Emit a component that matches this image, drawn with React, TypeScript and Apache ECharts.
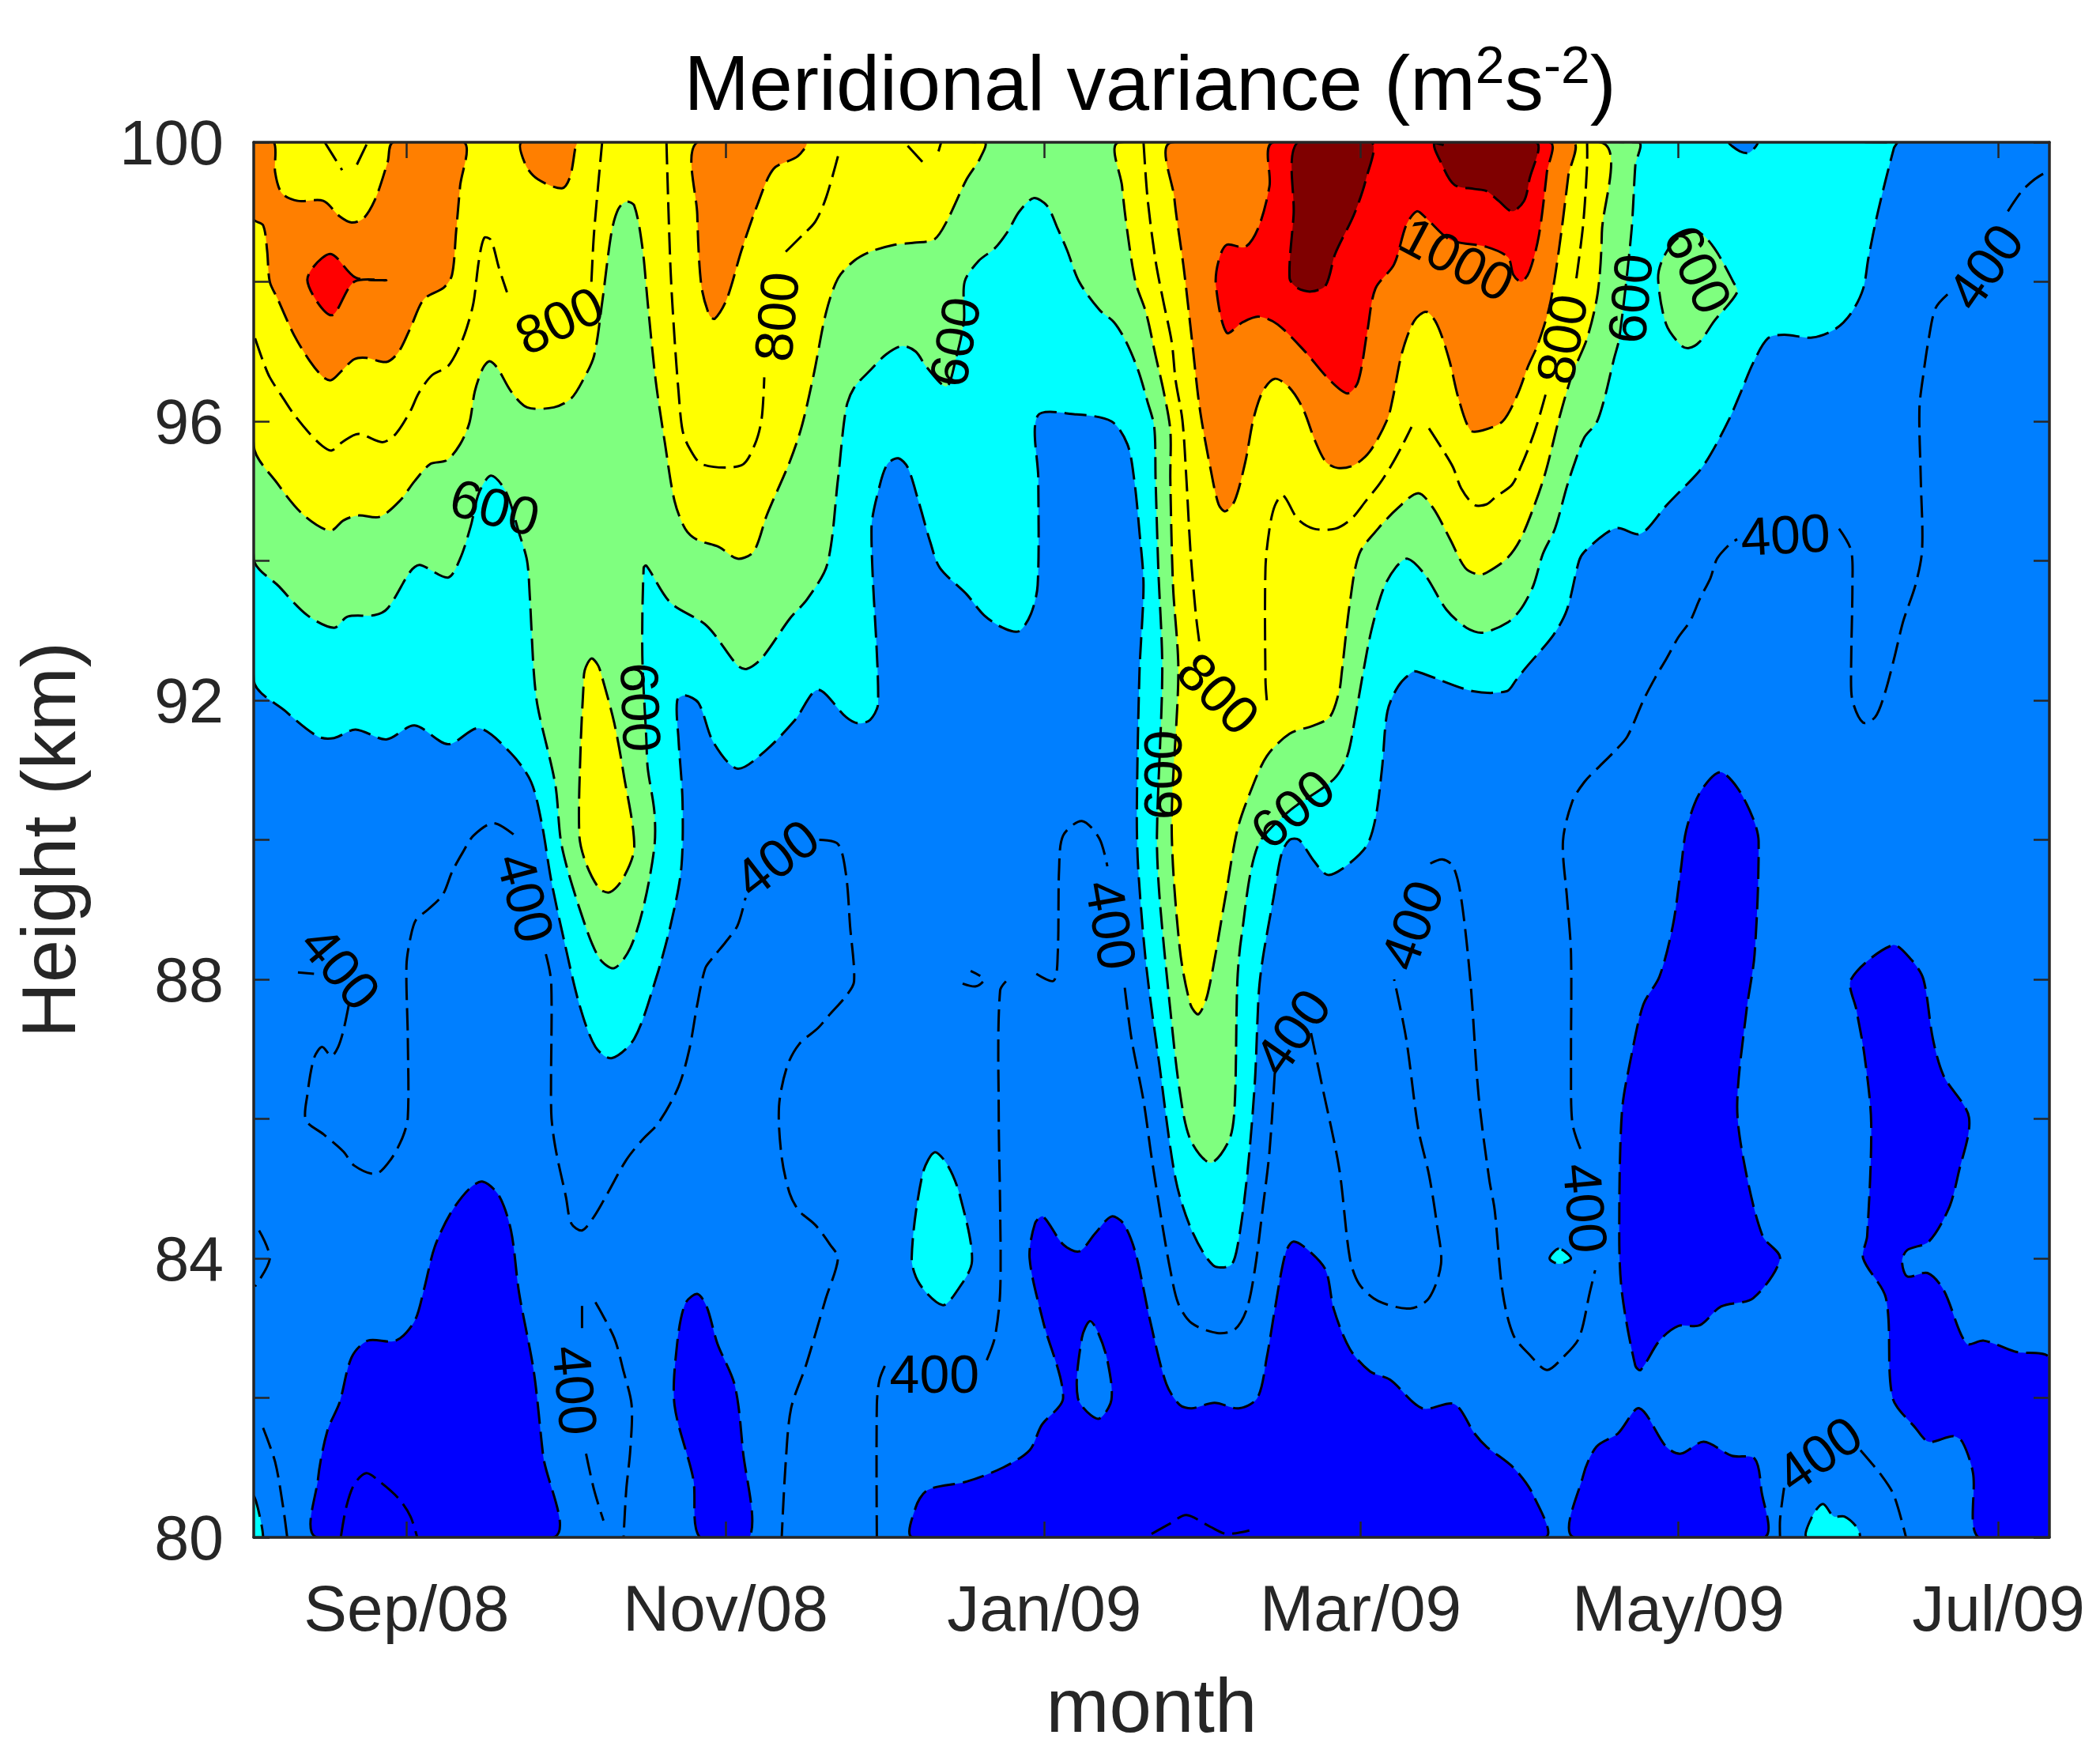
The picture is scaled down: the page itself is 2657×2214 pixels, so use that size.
import React, { useEffect, useRef } from "react";
import * as echarts from "echarts";

type Pt = number[];

// x is the 6-hourly sample number of the record, y is height in km
const xTickValues = [114, 352, 590, 826, 1063, 1302];
const xTickLabels = ["Sep/08", "Nov/08", "Jan/09", "Mar/09", "May/09", "Jul/09"];
const yLabelledTicks = [80, 84, 88, 92, 96, 100];

const cyanBand: Pt[] = [[0,92.29],[24,91.84],[48,91.48],[60,91.46],[76,91.58],[99,91.44],[120,91.64],[145,91.37],[168,91.6],[192,91.24],[207,90.83],[215,90.23],[222,89.42],[231,88.61],[243,87.64],[255,87.03],[267,86.87],[284,87.15],[300,88],[311,88.77],[319,89.58],[320,90.55],[317,91.44],[316,92],[322,92.07],[332,91.96],[343,91.4],[361,91.02],[382,91.28],[404,91.72],[421,92.15],[442,91.76],[451,91.67],[460,91.72],[466,91.96],[461,94.46],[467,95.07],[473,95.39],[481,95.47],[488,95.34],[496,94.86],[505,94.26],[512,93.9],[532,93.52],[545,93.22],[559,93.04],[571,92.99],[580,93.24],[585,93.65],[585.5,95.17],[585,96.08],[613,96.1],[640,96],[652,95.67],[657,95.17],[661,94.41],[664,93.65],[661,92.41],[659,90.39],[660,89.6],[666,88.2],[676,86.75],[688,85.13],[700,84.4],[716,83.9],[729,83.9],[734,84.16],[741,85.13],[747,86.5],[750,87.8],[753,88.3],[761,89.17],[767,89.8],[773,90],[780,90],[791,89.7],[801,89.5],[812,89.58],[830,89.9],[837,90.3],[842,91.03],[846,91.84],[854,92.2],[865,92.41],[870,92.4],[910,92.13],[935,92.13],[942,92.29],[949,92.46],[970,92.94],[980,93.3],[989,94],[993,94.13],[1008,94.38],[1018,94.47],[1033,94.38],[1040,94.46],[1054,94.79],[1078,95.27],[1087,95.52],[1101,96.03],[1110,96.43],[1119,96.84],[1130,97.19],[1142,97.24],[1163,97.2],[1180,97.32],[1192,97.55],[1201,97.9],[1205,98.35],[1212,99],[1224,99.92],[1226,100],[0,100]];
const cyanDropJan: Pt[] = [[508,85.52],[499,85.2],[491,84],[497,83.63],[514,83.33],[524,83.51],[536,83.96],[527,84.9],[518,85.33]];
const cyanSpeck: Pt[] = [[974,84.14],[967,84],[974,83.92],[983,84]];
const cyanFloorJun: Pt[] = [[1159,80],[1163,80.3],[1171,80.48],[1179,80.3],[1187,80.3],[1196,80.15],[1198,80]];
const cyanCorner: Pt[] = [[0,80.6],[7,80],[0,80]];

const greenBand: Pt[] = [[0,94.03],[19,93.63],[40,93.22],[60,93.04],[70,93.2],[90,93.22],[100,93.32],[117,93.85],[124,93.94],[145,93.76],[154,94.03],[162,94.5],[168,94.97],[177,95.22],[188,95],[198,94.4],[204,94],[206,93.5],[209,92.41],[212,91.9],[225,90.8],[230,89.9],[246,88.85],[258,88.3],[269,88.16],[281,88.45],[291,89.05],[299,89.9],[299,90.4],[294,91.03],[293,91.44],[290,92.64],[291,93.9],[293,93.93],[311,93.4],[338,93.07],[361,92.5],[368,92.45],[379,92.6],[400,93.17],[413,93.45],[428,93.95],[436,95.17],[442,96.18],[448,96.48],[460,96.73],[472,96.96],[484,97.08],[494,97],[502,96.78],[517,96.5],[524,96.9],[530,97.44],[530.5,98],[541,98.3],[553,98.48],[563,98.73],[571,99],[582,99.2],[592,99.09],[600,98.76],[607,98.45],[616,98],[631,97.6],[642,97.42],[651,97.14],[660,96.73],[667,96.28],[672,95.92],[673,95.17],[675,93.9],[678,92.41],[674,90.06],[676,89.17],[684,87.56],[691,86.4],[699,85.7],[714,85.37],[728,85.7],[732,86.18],[734,87.96],[737,88.6],[749,89.9],[772,90.4],[806,90.87],[816,91.2],[822,91.76],[828,92.41],[834,93],[843,93.6],[852,93.9],[861,94.03],[874,93.8],[890,93.3],[905,93.04],[917,92.97],[936,93.12],[946,93.32],[955,93.65],[962,94.1],[971,94.46],[980,95.07],[986,95.42],[993,95.77],[1002,95.98],[1008,96.33],[1015,96.89],[1019,97.19],[1028,98.7],[1031,99.67],[1033,100],[0,100]];
const greenPatchMay: Pt[] = [[1063,98.63],[1052,98.35],[1048,98.05],[1054,97.39],[1065,97.09],[1071,97.05],[1079,97.14],[1090,97.44],[1107,97.85],[1104,98],[1090,98.48],[1078,98.71]];

const yellowLeft: Pt[] = [[0,95.65],[18,95.1],[37,94.66],[57,94.43],[67,94.58],[78,94.65],[94,94.63],[109,94.86],[120,95.14],[132,95.39],[144,95.44],[154,95.67],[161,95.98],[165,96.43],[171,96.76],[176,96.86],[182,96.76],[192,96.43],[204,96.2],[224,96.2],[237,96.33],[246,96.6],[254,96.94],[260,97.7],[267,98.71],[272,99.04],[278,99.15],[284,99.09],[290,98.5],[294,97.7],[300,96.58],[307,95.67],[314,94.86],[322,94.46],[331,94.3],[347,94.2],[361,94.03],[373,94.13],[383,94.66],[400,95.42],[409,95.93],[418,96.68],[427,97.55],[436,98.05],[448,98.3],[460,98.43],[478,98.53],[493,98.56],[508,98.61],[517,98.86],[532,99.47],[542,99.77],[545,100],[0,100]];
const yellowRight: Pt[] = [[646,100],[648,99.37],[652,98.71],[658,98],[666,97.55],[673,96.94],[679,96.43],[684,95.87],[684,95.17],[686,93.65],[690,92.41],[685,90.2],[691,88.45],[699,87.64],[705,87.5],[712,87.8],[725,89.17],[734,90.14],[744,90.7],[756,91.2],[773,91.52],[791,91.64],[803,91.76],[810,92.13],[812,92.41],[818,93.4],[825,94.1],[839,94.46],[854,94.76],[869,94.97],[880,94.76],[893,94.3],[904,93.9],[914,93.8],[920,93.83],[935,94.03],[945,94.3],[955,94.76],[964,95.27],[974,96.03],[984,96.68],[995,97.19],[1003,97.85],[1006,98.7],[1005,100]];
const yellowPocket: Pt[] = [[252,92.6],[247,92.43],[246,92.17],[244,91.36],[243,90.06],[248,89.66],[258,89.3],[266,89.25],[276,89.46],[284,89.9],[276,90.95],[269,91.68],[260,92.33],[257,92.5]];

const orangeLeft: Pt[] = [[0,98.9],[7,98.81],[10,98.45],[12,98],[18,97.75],[30,97.24],[42,96.86],[52,96.63],[58,96.59],[66,96.73],[75,96.89],[84,96.91],[99,96.85],[108,96.99],[117,97.34],[127,97.75],[142,97.92],[148,98.1],[151,98.71],[154,99.37],[157,100],[104,100],[100,99.72],[91,99.2],[82,98.91],[73,98.85],[64,98.94],[52,99.16],[33,99.16],[21,99.27],[16,99.57],[15,100],[0,100]];
const orangeCapA: Pt[] = [[200,100],[203,99.67],[212,99.47],[230,99.34],[236,99.5],[240,99.92],[241,100]];
const orangeCapB: Pt[] = [[331,100],[331,98.96],[334,97.95],[340,97.52],[344,97.47],[353,97.75],[364,98.45],[376,99.11],[388,99.62],[406,99.8],[412,100]];
const orangeMain: Pt[] = [[685,100],[687,99.2],[694,98.2],[700,97.19],[706,96.18],[714,95.32],[720,94.81],[725,94.71],[732,94.86],[740,95.42],[746,96.03],[753,96.43],[762,96.61],[773,96.48],[783,96.18],[792,95.72],[800,95.42],[809,95.33],[821,95.37],[833,95.57],[846,96.03],[850,96.33],[857,96.99],[866,97.44],[875,97.57],[883,97.39],[892,96.89],[899,96.33],[908,95.87],[917,95.87],[932,96],[943,96.38],[951,96.79],[958,97.09],[967,97.65],[974,98.46],[981,99.52],[984,100]];

const redDiamond: Pt[] = [[57,98.4],[40,98.03],[58,97.52],[75,98],[99,98.02],[76,98.06]];
const redMain: Pt[] = [[761,100],[758,99.37],[750,98.79],[740,98.5],[726,98.53],[720,98.3],[718,97.95],[726,97.27],[738,97.42],[750,97.5],[764,97.39],[785,96.99],[801,96.63],[816,96.4],[824,96.56],[831,97.29],[837,97.9],[851,98.25],[860,98.81],[868,99.01],[875,98.91],[893,98.6],[920,98.5],[936,98.35],[940,98.1],[946,98],[952,98.15],[959,98.66],[965,99.57],[967,100]];
const darkRedA: Pt[] = [[779,100],[776,98.96],[773,98.05],[779,97.91],[789,97.86],[800,97.95],[807,98.4],[821,98.96],[830,99.47],[834,100]];
const darkRedB: Pt[] = [[882,100],[887,99.67],[896,99.39],[911,99.33],[920,99.3],[929,99.16],[939,99.01],[948,99.16],[952,99.47],[957,100]];

const deepBlueAug: Pt[] = [[47,80],[48,80.84],[55,81.53],[64,81.93],[73,82.58],[85,82.82],[106,82.82],[120,83.1],[127,83.55],[135,84.16],[147,84.65],[161,85],[171,85.1],[183,84.9],[192,84.4],[198,83.51],[209,82.38],[216,81.17],[224,80]];
const deepBlueOct: Pt[] = [[333,80],[328,80.84],[314,81.9],[316,82.78],[322,83.35],[331,83.49],[338,83.31],[346,82.78],[359,82.18],[365,81.25],[370,80]];
const deepBlueWinter: Pt[] = [[492,80],[494,80.43],[503,80.68],[532,80.8],[559,81],[579,81.25],[588,81.61],[604,82],[589,83.1],[579,84],[583,84.5],[589,84.6],[604,84.2],[616,84.1],[628,84.36],[640,84.6],[649,84.5],[658,84.08],[669,83.1],[681,82.2],[691,81.9],[700,81.85],[717,81.93],[735,81.85],[749,82],[756,82.58],[762,83.27],[770,84.08],[776,84.24],[788,84.1],[800,83.83],[806,83.27],[818,82.7],[833,82.38],[848,82.26],[872,81.85],[896,81.91],[911,81.49],[920,81.3],[940,81],[955,80.6],[963,80]];
const blueHoleJan: Pt[] = [[624,83.1],[618,82.86],[615,82],[630,81.7],[640,81.97],[637,82.54],[630,82.94]];
const deepBlueApr: Pt[] = [[985,80],[992,80.88],[1002,81.3],[1018,81.49],[1034,81.85],[1054,81.3],[1065,81.2],[1082,81.37],[1103,81.17],[1120,81.13],[1125,80.68],[1127,80]];
const deepBlueMay: Pt[] = [[1035,82.4],[1031,82.46],[1021,83.51],[1019,84.32],[1021,86.1],[1028,86.9],[1037,87.64],[1049,88.04],[1059,88.77],[1065,89.58],[1069,90.14],[1079,90.67],[1094,90.97],[1107,90.75],[1119,90.3],[1123,89.98],[1120,88.36],[1114,87.56],[1107,86.18],[1113,85.29],[1126,84.32],[1139,84],[1119,83.43],[1095,83.31],[1079,83.04],[1063,83.03],[1049,82.82]];
const deepBlueJun: Pt[] = [[1192,88],[1223,88.49],[1237,88.28],[1246,88],[1253,87.15],[1261,86.62],[1280,86.02],[1272,85.21],[1265,84.72],[1250,84.24],[1234,84.12],[1230,83.96],[1234,83.74],[1249,83.79],[1261,83.55],[1278,82.78],[1291,82.82],[1315,82.66],[1340,82.56],[1340,80],[1287,80],[1283,80.92],[1275,81.37],[1268,81.45],[1250,81.37],[1240,81.57],[1223,82],[1218,83.43],[1201,84],[1204,84.32],[1207,85.94],[1202,86.91],[1196,87.56]];
const blueNotchTop: Pt[] = [[1101,100],[1109,99.87],[1116,99.85],[1122,100]];

const regions: { color: string; pts: Pt[] }[] = [
  { color: "#00FFFF", pts: cyanBand }, { color: "#00FFFF", pts: cyanDropJan }, { color: "#00FFFF", pts: cyanSpeck },
  { color: "#00FFFF", pts: cyanFloorJun }, { color: "#00FFFF", pts: cyanCorner },
  { color: "#7FFF7F", pts: greenBand }, { color: "#7FFF7F", pts: greenPatchMay },
  { color: "#FFFF00", pts: yellowLeft }, { color: "#FFFF00", pts: yellowRight }, { color: "#FFFF00", pts: yellowPocket },
  { color: "#FF7F00", pts: orangeLeft }, { color: "#FF7F00", pts: orangeCapA }, { color: "#FF7F00", pts: orangeCapB }, { color: "#FF7F00", pts: orangeMain },
  { color: "#FF0000", pts: redDiamond }, { color: "#FF0000", pts: redMain },
  { color: "#7F0000", pts: darkRedA }, { color: "#7F0000", pts: darkRedB },
  { color: "#0000FF", pts: deepBlueAug }, { color: "#0000FF", pts: deepBlueOct }, { color: "#0000FF", pts: deepBlueWinter },
  { color: "#007FFF", pts: blueHoleJan },
  { color: "#0000FF", pts: deepBlueApr }, { color: "#0000FF", pts: deepBlueMay }, { color: "#0000FF", pts: deepBlueJun },
  { color: "#007FFF", pts: blueNotchTop },
];

// open dashed contour lines inside the bands
const contourLines: Pt[][] = [
  [[53,100],[66,99.6]],
  [[77,99.68],[85,100]],
  [[1,97.19],[7,96.86],[12,96.63],[22,96.33],[30,96.1],[42,95.82],[51,95.65],[58,95.58],[66,95.7],[78,95.82],[96,95.7],[106,95.82],[117,96.15],[123,96.4],[133,96.66],[145,96.79],[154,97.09],[159,97.34],[164,97.7],[168,98.3],[172,98.63],[177,98.6],[183,98.2],[189,97.85]],
  [[252,98],[254,98.71],[260,100]],
  [[308,100],[311,98.2],[314,97.2],[317,96.43],[320,95.87],[325,95.62],[335,95.38],[364,95.37],[374,95.67],[379,96.03],[381,96.63]],
  [[397,98.43],[409,98.66],[419,98.86],[427,99.2],[436,99.8]],
  [[488,99.95],[499,99.72]],
  [[511,99.87],[513,100]],
  [[664,100],[667,99.2],[673,98.3],[679,97.7],[685,97.14],[688,96.58],[693,96.02],[696,95.17],[699,94.15],[703,93.24],[706,92.78]],
  [[756,92],[755,92.29],[755,93.9],[758,94.46],[762,94.79],[768,94.94],[779,94.6],[791,94.46],[807,94.46],[819,94.6],[830,94.86],[840,95.1],[849,95.37],[857,95.65],[864,95.92]],
  [[877,95.9],[887,95.6],[895,95.34],[901,95.04],[911,94.8],[920,94.81],[927,94.92],[939,95.09],[946,95.37],[952,95.65],[958,95.98],[964,96.38]],
  [[987,98.05],[992,98.81],[995,99.67],[995,100]],
  [[33,88.1],[45,88.08]],
  [[71,87.64],[67,87.27],[63,87.03],[58,86.9],[51,87.03],[45,86.87],[40,86.34],[39,85.98],[52,85.78],[67,85.53],[75,85.33],[91,85.21],[102,85.41],[111,85.73],[115,86.02],[115,87.15],[114,88.2],[117,88.6],[121,88.85],[130,89],[141,89.21],[148,89.54],[156,89.82],[164,90.06],[179,90.24],[195,90.06]],
  [[218,88.36],[222,87.96],[222,86.1],[225,85.6],[233,84.88],[237,84.5],[245,84.4],[254,84.6],[264,84.93],[278,85.41],[290,85.7],[302,85.94],[317,86.46],[325,86.99],[331,87.64],[337,88.16],[343,88.32],[352,88.53],[361,88.77],[367,89.17]],
  [[422,90],[436,89.94],[442,89.5],[445,88.77],[448,87.97],[442,87.76],[430,87.5],[421,87.3],[407,87.07],[398,86.75],[392,86.18],[394,85.45],[400,84.93],[407,84.68],[419,84.48],[430,84.2],[436,84],[427,83.43],[412,82.46],[401,81.85],[397,81.08],[394,80]],
  [[4,84.4],[12,84],[1,83.6]],
  [[7,81.57],[16,81.08],[22,80.43],[25,80]],
  [[65,80],[69,80.43],[75,80.76],[84,80.92],[94,80.8],[108,80.56],[117,80.3],[122,80]],
  [[245,83],[245,83.37]],
  [[255,83.37],[269,82.86],[276,82.38],[282,81.9],[281,81.25],[278,80.68],[276,80]],
  [[248,81.2],[254,80.68],[261,80.24]],
  [[465,80],[465,81.9],[467,82.26],[472,82.5]],
  [[547,82.54],[553,82.86],[557,83.51],[557,84.72],[556,85.94],[557,87.84],[565,88.04]],
  [[584,88.08],[597,87.98],[600,88.37],[601,89.58],[604,90.06],[618,90.27],[631,90.02],[637,89.62]],
  [[650,87.88],[655,87.15],[664,86.26],[670,85.45],[678,84.48],[684,83.83],[690,83.35],[700,83.07],[719,82.93],[732,82.98],[741,83.27],[747,83.83],[753,84.72],[758,85.53],[762,86.67]],
  [[789,87.23],[797,86.5],[810,85.29],[818,84],[825,83.63],[839,83.39],[863,83.28],[877,83.43],[886,83.92],[883,84.48],[877,85.2],[869,85.86],[860,87.15],[851,88]],
  [[878,89.66],[887,89.72],[895,89.62],[901,89.17],[908,87.96],[914,86.34],[922,85.13],[926,84.7],[932,83.51],[940,82.9],[952,82.62],[965,82.4],[977,82.58],[989,82.86],[997,83.51],[1001,83.83]],
  [[990,85.57],[984,85.94],[983,86.75],[983,88.37],[980,89.17],[977,89.98],[984,90.55],[993,90.83],[1003,91.03],[1016,91.28],[1025,91.48],[1037,92],[1046,92.33],[1054,92.59],[1063,92.9],[1072,93.14],[1079,93.45],[1087,93.75],[1092,94.03],[1101,94.23],[1107,94.31]],
  [[1183,94.46],[1192,94.15],[1193,93.65],[1192,92.41],[1193,92],[1201,91.68],[1210,91.76],[1217,92.09],[1224,92.59],[1231,93.14],[1240,93.65],[1245,94.16],[1244,95.17],[1243,96.18],[1246,96.68],[1250,97.19],[1255,97.62],[1264,97.82]],
  [[1309,99.01],[1319,99.29],[1329,99.47],[1340,99.6]],
  [[1139,80],[1139,80.26],[1142,80.71]],
  [[1199,81.25],[1215,80.88],[1224,80.6],[1233,80]],
  [[529,87.94],[539,87.9],[545,88],[535,88.12]],
  [[670,80.05],[684,80.2],[696,80.32],[714,80.15],[726,80.05],[743,80.1]],
  [[880,100],[888,99.96]],
];

const labelTexts = ["800","800","600","600","600","800","600","600","1000","800","600","600","400","400","400","400","400","400","400","400","400","400","400","400"];
const labelX = [228,390,180,289,523,720,678,775,898,976,1027,1078,1292,1143,65,203,390,640,864,775,994,508,240,1168];
const labelKm = [97.45,97.5,94.77,91.9,97.14,92.1,90.93,90.45,98.33,97.18,97.76,98.18,98.22,94.38,88.17,89.17,89.74,88.78,88.78,87.25,84.72,82.34,82.11,81.2];
const labelAngle = [25,85,-15,-88,80,-45,90,40,-28,80,85,-65,55,3,-50,-75,38,-80,70,55,-85,0,-85,35];

const FONT = '"Liberation Sans", Arial, sans-serif';
const INK = "#262626";
const SMOOTH = 0.3;

export default function App() {
  const ref = useRef<HTMLDivElement>(null);
  useEffect(() => {
    const chart = echarts.init(ref.current!, undefined, { renderer: "svg" });
    const tick = { inside: true, length: 20, lineStyle: { color: INK, width: 2.5 } };
    const line = { show: true, onZero: false, lineStyle: { color: INK, width: 3.5 } };
    chart.setOption({
      animation: false,
      backgroundColor: "#fff",
      textStyle: { fontFamily: FONT },
      title: {
        text: "{a|Meridional variance (m}{s|2}{a|s}{s|-2}{a|)}",
        left: 1450,
        top: 44,
        textAlign: "center",
        textStyle: {
          fontWeight: "normal",
          rich: {
            a: { fontFamily: FONT, fontSize: 99, fontWeight: "normal", color: "#000", lineHeight: 110 },
            s: { fontFamily: FONT, fontSize: 66, fontWeight: "normal", color: "#000", lineHeight: 110, verticalAlign: "top" },
          },
        },
      },
      grid: { show: true, left: 321, right: 64, top: 180, bottom: 269, backgroundColor: "#007FFF", borderWidth: 0 },
      xAxis: [
        {
          type: "value", min: 0, max: 1340, z: 10, position: "bottom",
          name: "month", nameLocation: "middle", nameGap: 164,
          nameTextStyle: { fontFamily: FONT, fontSize: 96, color: INK },
          axisLine: line,
          axisTick: { ...tick, customValues: xTickValues },
          axisLabel: {
            customValues: xTickValues, margin: 48, fontFamily: FONT, fontSize: 82, color: INK,
            formatter: (v: number) => xTickLabels[xTickValues.indexOf(v)] ?? "",
          },
          splitLine: { show: false },
        },
        {
          type: "value", min: 0, max: 1340, z: 10, position: "top",
          axisLine: line,
          axisTick: { ...tick, customValues: xTickValues },
          axisLabel: { show: false },
          splitLine: { show: false },
        },
      ],
      yAxis: [
        {
          type: "value", min: 80, max: 100, interval: 2, z: 10, position: "left",
          name: "Height (km)", nameLocation: "middle", nameRotate: 90, nameGap: 211,
          nameTextStyle: { fontFamily: FONT, fontSize: 97, color: INK },
          axisLine: line, axisTick: tick,
          axisLabel: {
            margin: 38, fontFamily: FONT, fontSize: 79, color: INK, padding: [8, 0, 0, 0],
            formatter: (v: number) => (yLabelledTicks.includes(v) ? String(v) : ""),
          },
          splitLine: { show: false },
        },
        {
          type: "value", min: 80, max: 100, interval: 2, z: 10, position: "right",
          axisLine: line, axisTick: tick, axisLabel: { show: false }, splitLine: { show: false },
        },
      ],
      series: [
        {
          type: "custom", coordinateSystem: "cartesian2d", clip: true, silent: true, z: 2,
          data: regions.map((r) => r.pts[0]),
          renderItem: (params: any, api: any) => {
            const r = regions[params.dataIndex];
            return {
              type: "polygon",
              shape: { points: r.pts.map((p) => api.coord(p)), smooth: SMOOTH },
              style: { fill: r.color, stroke: "#000", lineWidth: 3, lineDash: [28, 10] },
            };
          },
        },
        {
          type: "custom", coordinateSystem: "cartesian2d", clip: true, silent: true, z: 3,
          data: contourLines.map((l) => l[0]),
          renderItem: (params: any, api: any) => ({
            type: "polyline",
            shape: { points: contourLines[params.dataIndex].map((p) => api.coord(p)), smooth: SMOOTH },
            style: { fill: "none", stroke: "#000", lineWidth: 3, lineDash: [28, 10] },
          }),
        },
        {
          type: "custom", coordinateSystem: "cartesian2d", silent: true, z: 4,
          data: labelX.map((x, i) => [x, labelKm[i]]),
          renderItem: (params: any, api: any) => {
            const i = params.dataIndex;
            const [x, y] = api.coord([labelX[i], labelKm[i]]);
            return {
              type: "text", x, y,
              rotation: (labelAngle[i] * Math.PI) / 180,
              style: {
                text: labelTexts[i], fontFamily: FONT, fontSize: 68, fill: "#000",
                align: "center", verticalAlign: "middle",
              },
            };
          },
        },
      ],
    });
    return () => chart.dispose();
  }, []);
  return <div ref={ref} style={{ position: "absolute", left: 0, top: 0, width: 2657, height: 2214 }} />;
}
